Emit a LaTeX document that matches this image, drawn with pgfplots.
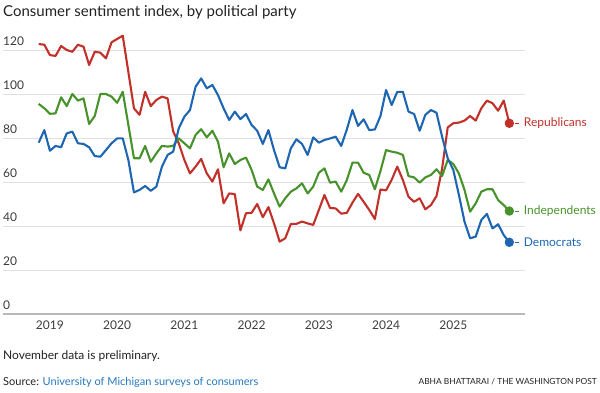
\documentclass[border=0pt]{standalone}
\usepackage{pgfplots}
\pgfplotsset{compat=1.18}
\usepackage{pgfplotstable}
\usepackage{fontspec}
\setmainfont{Lato}
\definecolor{rep}{RGB}{194,48,42}
\definecolor{ind}{RGB}{72,146,44}
\definecolor{dem}{RGB}{30,102,178}
\definecolor{txt}{RGB}{34,34,34}
\definecolor{tickc}{RGB}{60,60,60}
\definecolor{gridc}{RGB}{224,224,224}
\definecolor{basec}{RGB}{185,185,185}
\definecolor{src}{RGB}{38,120,190}

\pgfplotstableread{
m rep ind dem
0 122.7 95.5 77.9
1 122.4 93.5 83.6
2 117.7 91 74.2
3 117.3 91.2 76.4
4 121.8 98.5 75.8
5 120 94.5 82.1
6 119.2 100 82.9
7 122.4 97 77.6
8 121.5 98 77.3
9 113.2 86.4 75.8
10 119.2 90 71.8
11 118.8 100 71.5
12 116.2 100 74.5
13 123.5 98.8 77.6
14 125 96 79.8
15 126.5 101 79.8
16 110 86 70
17 93.5 70.8 55.3
18 90.5 70.8 56.4
19 101 76.4 58.2
20 94.5 69.2 56
21 97.3 73 57.9
22 98.8 76.4 67
23 98 76.1 72.3
24 83 76.4 73.8
25 77.6 79.8 84.4
26 70 77.6 89.7
27 63.9 75.3 92.7
28 67 81.4 103.3
29 70.5 84 107.1
30 63.9 80.3 102.6
31 60.2 83.3 104.1
32 65.8 78.3 99.5
33 50.3 66.7 93.5
34 54.8 73 88.2
35 54.5 68.2 92
36 38 70 88.6
37 45.8 71.1 90.9
38 46 65.5 85.9
39 50 57.9 83.3
40 44 56.4 77.3
41 48.6 61.2 83.6
42 41.2 54.8 74.5
43 32.9 48.8 66.7
44 34.4 52.6 66.2
45 40.9 55.6 75.3
46 41 57.1 79.4
47 42 59.4 77.3
48 41.2 54.8 72.3
49 40.5 57.9 80.3
50 47.3 64.2 77.9
51 54.1 66.2 79.1
52 48.2 59.7 79.8
53 48 60.2 80.6
54 45.6 55.6 76.4
55 46 60.9 83.9
56 50.6 68.8 92.7
57 54.6 68.8 85.5
58 51 64.2 88.5
59 47.3 63.2 83.6
60 43.2 56.7 83.9
61 56.6 65 90
62 56.2 74.5 101.8
63 61 73.8 95
64 67 73.3 101
65 60.9 72.3 101
66 53.3 62.7 92
67 51 62.1 90.9
68 52.6 59.7 83.3
69 47.6 62.1 90.5
70 49.5 63.2 92.7
71 53.6 65.8 91.5
72 66 62.7 80.6
73 84.8 70 70.8
74 86.7 68.2 65.5
75 87 63.9 54.1
76 87.9 56.4 42
77 90 46.5 34.4
78 87.9 50.3 35.2
79 93.5 55.6 42.7
80 97 56.7 45.5
81 95.8 56.7 38.9
82 92.4 51.8 40.8
83 97 49.5 35.9
84 86.7 46.8 32.6
}\data

\begin{document}
\begin{tikzpicture}
\path[use as bounding box] (0pt,0pt) rectangle (600pt,-392pt);
\node[anchor=base west, inner sep=0, text=txt, font=\fontsize{15}{18}\selectfont] at (3pt,-16.5pt) {Consumer sentiment index, by political party};
\begin{axis}[
  at={(3pt,-314pt)}, anchor=south west,
  scale only axis, width=522pt, height=286pt,
  xmin=-6.375, xmax=86.8, ymin=0, ymax=130,
  axis line style={draw=none},
  major tick length=0pt,
  ytick={0,20,...,120},
  ymajorgrids, grid style={draw=gridc, line width=0.9pt},
  yticklabel style={anchor=south west, inner sep=0pt, yshift=4pt, font=\fontsize{12}{12}\selectfont, text=tickc},
  xtick={2,14,...,74},
  xticklabels={2019,2020,2021,2022,2023,2024,2025},
  xticklabel style={font=\fontsize{12}{12}\selectfont, text=tickc, yshift=-3pt},
  /pgf/number format/assume math mode=true,
  clip=false,
  every axis plot/.append style={line width=2.1pt, line join=round, mark size=3.6pt},
]
\draw[basec, line width=1.4pt] (axis cs:-6.375,0) -- (axis cs:86.8,0);
\addplot[rep, mark=*, mark indices={85}] table[x=m, y=rep] {\data};
\addplot[ind, mark=*, mark indices={85}] table[x=m, y=ind] {\data};
\addplot[dem, mark=*, mark indices={85}] table[x=m, y=dem] {\data};
\draw[rep, line width=0.8pt] (axis cs:85.05,86.7) -- (axis cs:85.75,86.7);
\draw[ind, line width=0.8pt] (axis cs:85.05,46.8) -- (axis cs:85.75,46.8);
\draw[dem, line width=0.8pt] (axis cs:85.05,32.6) -- (axis cs:85.75,32.6);
\node[anchor=west, inner sep=0, text=rep, font=\fontsize{12}{12}\selectfont] at (axis cs:86.57,86.7) {Republicans};
\node[anchor=west, inner sep=0, text=ind, font=\fontsize{12}{12}\selectfont] at (axis cs:86.57,46.8) {Independents};
\node[anchor=west, inner sep=0, text=dem, font=\fontsize{12}{12}\selectfont] at (axis cs:86.57,32.6) {Democrats};
\end{axis}
\node[anchor=base west, inner sep=0, text=txt, font=\fontsize{12}{14}\selectfont] at (3pt,-359pt) {November data is preliminary.};
\node[anchor=base west, inner sep=0, text=txt, font=\fontsize{11}{14}\selectfont] at (3pt,-385pt) {Source: \textcolor{src}{University of Michigan surveys of consumers}};
\node[anchor=base east, inner sep=0, text=txt, font=\fontsize{8.4}{10}\selectfont] at (597pt,-384pt) {ABHA BHATTARAI / THE WASHINGTON POST};
\end{tikzpicture}
\end{document}
